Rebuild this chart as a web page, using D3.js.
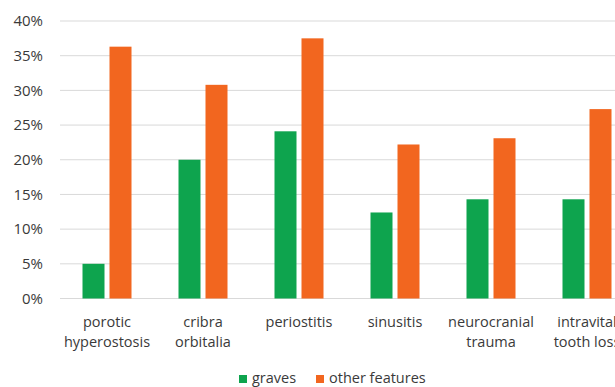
<!DOCTYPE html>
<html>
<head>
<meta charset="utf-8">
<script src="https://cdn.jsdelivr.net/npm/d3@7/dist/d3.min.js"></script>
<style>
  html, body { margin: 0; padding: 0; background: #fff; }
  svg { display: block; }
  text { font-family: "Open Sans", "Noto Sans", sans-serif; fill: #3a3a3a; }
</style>
</head>
<body>
<svg id="chart" width="615" height="387"></svg>
<script>
// Paleopathological features: share in graves vs. other features
const categories = [
  ["porotic", "hyperostosis"],
  ["cribra", "orbitalia"],
  ["periostitis"],
  ["sinusitis"],
  ["neurocranial", "trauma"],
  ["intravital", "tooth loss"]
];
const graves = [0.05, 0.20, 0.241, 0.124, 0.143, 0.143];
const otherFeatures = [0.363, 0.308, 0.375, 0.222, 0.231, 0.273];
const seriesNames = ["graves", "other features"];
const seriesColors = ["#0ea44e", "#f2661f"];
const yTicks = [0, 0.05, 0.10, 0.15, 0.20, 0.25, 0.30, 0.35, 0.40];

const svg = d3.select("#chart");
const plot = { left: 59, right: 635, top: 21, bottom: 298.5 };

const x = d3.scaleBand()
  .domain(d3.range(categories.length))
  .range([plot.left, plot.right]);

const y = d3.scaleLinear()
  .domain([0, 0.40])
  .range([plot.bottom, plot.top]);

// Horizontal gridlines
svg.append("g")
  .selectAll("line")
  .data(yTicks)
  .join("line")
  .attr("x1", plot.left + 1)
  .attr("x2", 615)
  .attr("y1", d => y(d))
  .attr("y2", d => y(d))
  .attr("stroke", "#d9d9d9")
  .attr("stroke-width", 1);

// Y axis labels
const yAxis = d3.axisLeft(y)
  .tickValues(yTicks)
  .tickFormat(d3.format(".0%"))
  .tickSize(0)
  .tickPadding(0);
const yg = svg.append("g")
  .attr("transform", `translate(43,0)`)
  .call(yAxis);
yg.select(".domain").remove();
yg.selectAll("text")
  .attr("font-size", 15)
  .attr("font-family", "'Open Sans', sans-serif")
  .attr("fill", "#3a3a3a");

// Bars
const barW = 22, gap = 5;
const series = [graves, otherFeatures];
series.forEach((vals, si) => {
  svg.append("g")
    .selectAll("rect")
    .data(vals)
    .join("rect")
    .attr("x", (d, i) => x(i) + x.bandwidth() / 2 + (si === 0 ? -gap / 2 - barW : gap / 2))
    .attr("width", barW)
    .attr("y", d => y(d))
    .attr("height", d => y(0) - y(d))
    .attr("fill", seriesColors[si]);
});

// Category labels
const xg = svg.append("g");
categories.forEach((lines, i) => {
  const t = xg.append("text")
    .attr("x", x(i) + x.bandwidth() / 2)
    .attr("y", 327)
    .attr("text-anchor", "middle")
    .attr("font-size", 14.5);
  lines.forEach((ln, k) => {
    t.append("tspan")
      .attr("x", x(i) + x.bandwidth() / 2)
      .attr("dy", k === 0 ? 0 : 20)
      .text(ln);
  });
});

// Legend
const legendItems = [
  { name: seriesNames[0], color: seriesColors[0], x: 239 },
  { name: seriesNames[1], color: seriesColors[1], x: 316 }
];
const lg = svg.append("g");
legendItems.forEach(it => {
  lg.append("rect")
    .attr("x", it.x).attr("y", 375)
    .attr("width", 8).attr("height", 8)
    .attr("fill", it.color);
  lg.append("text")
    .attr("x", it.x + 13).attr("y", 383)
    .attr("font-size", 14.5)
    .text(it.name);
});
</script>
</body>
</html>
